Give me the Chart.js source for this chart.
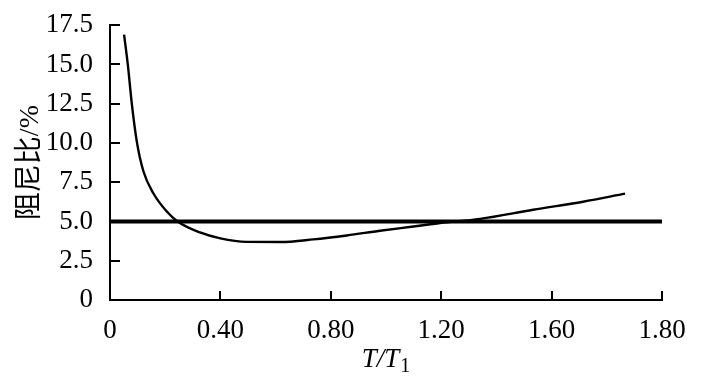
<!DOCTYPE html>
<html>
<head>
<meta charset="utf-8">
<script src="https://cdn.jsdelivr.net/npm/chart.js@4/dist/chart.umd.min.js"></script>
<style>
  html, body { margin: 0; padding: 0; background: #fff; }
  #wrap { width: 706px; height: 377px; position: relative; }
</style>
</head>
<body>
<div id="wrap"><canvas id="c" width="706" height="377"></canvas></div>
<script>
// Damping-ratio curve
const ratioX = [0.051, 0.0645, 0.079, 0.097, 0.121, 0.157, 0.205, 0.245, 0.326, 0.40, 0.495, 0.616, 0.737, 0.858, 0.978, 1.099, 1.196, 1.341, 1.533, 1.714, 1.866];
const ratioY = [16.9, 15.0, 12.5, 10.1, 8.2, 6.8, 5.65, 5.0, 4.3, 3.92, 3.70, 3.69, 3.86, 4.11, 4.41, 4.68, 4.90, 5.17, 5.75, 6.26, 6.77];
// Reference 5% line
const refX = [0, 2.0];
const refY = [5.0, 5.0];
// Tick labels as printed on the original axis
const xTickLabels = ["0", "0.40", "0.80", "1.20", "1.60", "1.80"];
const yTitle = "阻尼比/%";
const xTitleMain = "T/T";
const xTitleSub = "1";

const serif = "'Liberation Serif', 'Times New Roman', serif";

const innerTicks = {
  id: 'innerTicks',
  afterDraw(chart) {
    const ctx = chart.ctx, xs = chart.scales.x, ys = chart.scales.y;
    const a = chart.chartArea;
    ctx.save();
    ctx.strokeStyle = '#000';
    ctx.lineWidth = 2;
    ys.ticks.forEach(t => {
      if (t.value === 0) return;
      const y = Math.round(ys.getPixelForValue(t.value));
      ctx.beginPath(); ctx.moveTo(a.left, y); ctx.lineTo(a.left + 10, y); ctx.stroke();
    });
    xs.ticks.forEach(t => {
      if (t.value === 0) return;
      const x = Math.round(xs.getPixelForValue(t.value));
      ctx.beginPath(); ctx.moveTo(x, a.bottom); ctx.lineTo(x, a.bottom - 9); ctx.stroke();
    });
    // x-axis title with subscript
    const fMain = "italic 27px " + serif;
    const fSub = "20px " + serif;
    ctx.font = fMain;
    const w1 = ctx.measureText(xTitleMain).width;
    ctx.font = fSub;
    const w2 = ctx.measureText(xTitleSub).width;
    const cx = (a.left + a.right) / 2;
    let x0 = cx - (w1 + w2 + 1) / 2;
    ctx.fillStyle = '#000';
    ctx.textBaseline = 'alphabetic';
    ctx.textAlign = 'left';
    ctx.font = fMain;
    ctx.fillText(xTitleMain, x0, 367);
    ctx.font = fSub;
    ctx.fillText(xTitleSub, x0 + w1 + 1, 372);
    ctx.restore();
  }
};

new Chart(document.getElementById('c'), {
  type: 'line',
  data: {
    datasets: [
      {
        data: ratioX.map((x, i) => ({x, y: ratioY[i]})),
        borderColor: '#000',
        borderWidth: 2.4,
        pointRadius: 0,
        cubicInterpolationMode: 'monotone',
        fill: false
      },
      {
        data: refX.map((x, i) => ({x, y: refY[i]})),
        borderColor: '#000',
        borderWidth: 4,
        pointRadius: 0,
        fill: false
      }
    ]
  },
  options: {
    responsive: false,
    animation: false,
    events: [],
    layout: { padding: { top: 17, right: 44, left: 0, bottom: 0 } },
    plugins: { legend: { display: false }, tooltip: { enabled: false } },
    scales: {
      x: {
        type: 'linear',
        min: 0, max: 2.0,
        grid: { display: false },
        border: { color: '#000', width: 2 },
        ticks: {
          stepSize: 0.4,
          color: '#000',
          padding: 7,
          maxRotation: 0,
          font: { family: serif, size: 27 },
          callback: (v, i) => xTickLabels[i]
        },
        afterFit: s => { s.height = 77; }
      },
      y: {
        min: 0, max: 17.5,
        grid: { display: false },
        border: { color: '#000', width: 2 },
        ticks: {
          stepSize: 2.5,
          color: '#000',
          padding: 9,
          font: { family: serif, size: 27 },
          callback: v => v === 0 ? '0' : Number(v).toFixed(1)
        },
        title: {
          display: true,
          text: yTitle,
          color: '#000',
          font: { family: "'Liberation Serif', 'Noto Sans CJK SC', serif", size: 28 },
          padding: { top: 14, bottom: 0 }
        },
        afterFit: s => { s.width = 110; }
      }
    }
  },
  plugins: [innerTicks]
});
</script>
</body>
</html>
